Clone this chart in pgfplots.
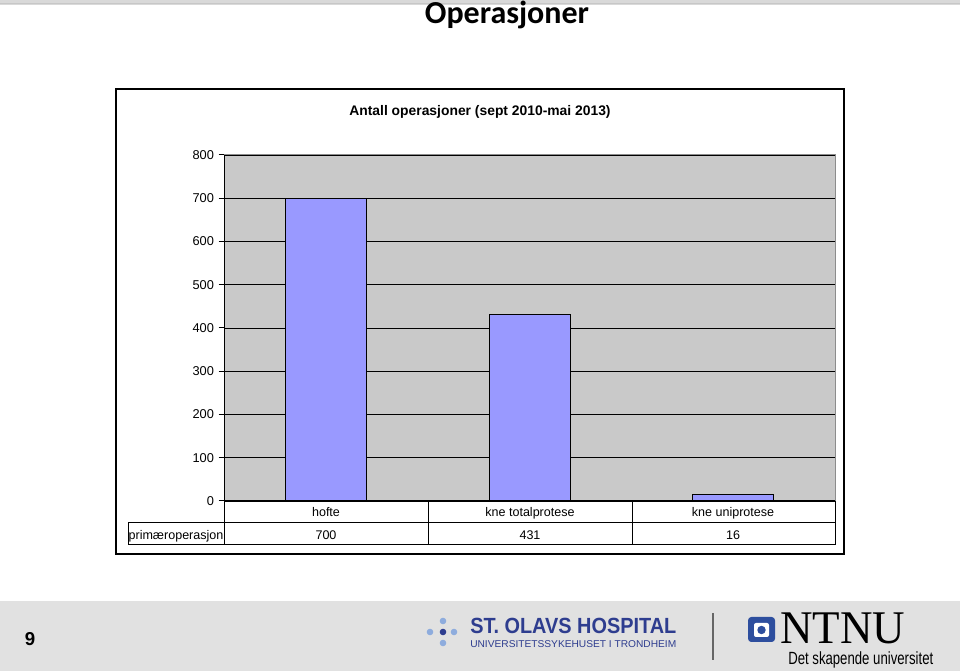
\documentclass[border=0pt]{standalone}
\usepackage{fontspec}
\setmainfont{Liberation Sans}
\newfontfamily\titlefont{Carlito}
\newfontfamily\ntnuserif{Liberation Serif}
\usepackage{pgfplots}
\pgfplotsset{compat=1.18}
\definecolor{barblue}{HTML}{9999FF}
\definecolor{plotgray}{HTML}{C9C9C9}
\definecolor{footgray}{HTML}{E1E1E1}
\definecolor{olavblue}{HTML}{2E3D8F}
\definecolor{olavlight}{HTML}{8EACDD}
\definecolor{ntnublue}{HTML}{2D4E9E}
\begin{document}
\begin{tikzpicture}[x=0.75pt,y=0.75pt]
\fill[white] (0,0) rectangle (960,671);
\useasboundingbox (0,0) rectangle (960,671);
% top band
\fill[black!15] (0,666) rectangle (960,671);
\draw[black!22, line width=1.2pt] (0,667.5) -- (960,667.5);
% slide title
\node[anchor=base, inner sep=0, font=\titlefont\bfseries\fontsize{24}{28}\selectfont] at (507,647) {Operasjoner};
% chart frame
\draw[black, line width=0.8pt] (116,117) rectangle (844,582);
\node[anchor=base, inner sep=0, font=\bfseries\fontsize{10.4}{12}\selectfont] at (480,555) {Antall operasjoner (sept 2010-mai 2013)};
\begin{axis}[
  at={(168pt,127.5pt)}, anchor=south west,
  scale only axis, width=458.25pt, height=259.5pt,
  xmin=-0.5, xmax=2.5, ymin=0, ymax=800,
  ytick={0,100,...,800}, xtick=\empty,
  axis x line=none, axis y line*=left,
  y axis line style={black, line width=0.75pt},
  ymajorgrids, grid style={black, line width=0.6pt},
  axis background/.style={fill=plotgray},
  tick style={black, line width=0.75pt}, tick align=outside, major tick length=4pt,
  yticklabel style={font=\fontsize{9.6}{11}\selectfont, xshift=0pt},
  /pgf/number format/assume math mode=true,
  ybar, bar width=60.75pt,
]
\addplot[fill=barblue, draw=black, line width=0.75pt] coordinates {(0,700) (1,431) (2,16)};
\end{axis}
% plot area border
\draw[black!45, line width=0.75pt] (224,516) -- (835,516) -- (835,170);
% data table
\begin{scope}[black, line width=0.75pt]
\draw (224,170) -- (835,170);
\draw (128,148) -- (835,148);
\draw (128,126) -- (835,126);
\draw (128,126) -- (128,148);
\draw (224,126) -- (224,170);
\draw (428,126) -- (428,170);
\draw (632,126) -- (632,170);
\draw (835,126) -- (835,170);
\end{scope}
\begin{scope}[every node/.style={anchor=base, inner sep=0, font=\fontsize{9.4}{11}\selectfont}]
\node at (326,154) {hofte};
\node at (530,154) {kne totalprotese};
\node at (733,154) {kne uniprotese};
\node at (176,131) {primæroperasjon};
\node at (326,131) {700};
\node at (530,131) {431};
\node at (733,131) {16};
\end{scope}
% footer
\fill[footgray] (0,0) rectangle (960,70);
\node[anchor=base, inner sep=0, font=\bfseries\fontsize{14}{16}\selectfont] at (30,26) {9};
% St. Olavs logo
\fill[olavlight] (443,50) circle (3.3);
\fill[olavlight] (430,39) circle (3.3);
\fill[olavblue] (443,39) circle (3.3);
\fill[olavlight] (454,39) circle (3.3);
\fill[olavlight] (443,28) circle (3.3);
\node[anchor=base west, inner sep=0, text=olavblue] at (470,37) {\resizebox{154.5pt}{11.5pt}{\bfseries ST. OLAVS HOSPITAL}};
\node[anchor=base west, inner sep=0, text=olavblue] at (470,23.5) {\resizebox{154.5pt}{5.2pt}{UNIVERSITETSSYKEHUSET I TRONDHEIM}};
\draw[black!60, line width=0.8pt] (713,58) -- (713,11);
% NTNU logo
\fill[ntnublue, rounded corners=2.5pt] (748,29) rectangle (775,54);
\fill[white, rounded corners=1.5pt] (754,34) rectangle (769,48);
\fill[ntnublue] (761.5,41) circle (4.2);
\node[anchor=base west, inner sep=0] at (780,28) {\resizebox{93.75pt}{23pt}{\ntnuserif NTNU}};
\node[anchor=base west, inner sep=0] at (788,6) {\resizebox{108.75pt}{9.6pt}{Det skapende universitet}};
\end{tikzpicture}
\end{document}
